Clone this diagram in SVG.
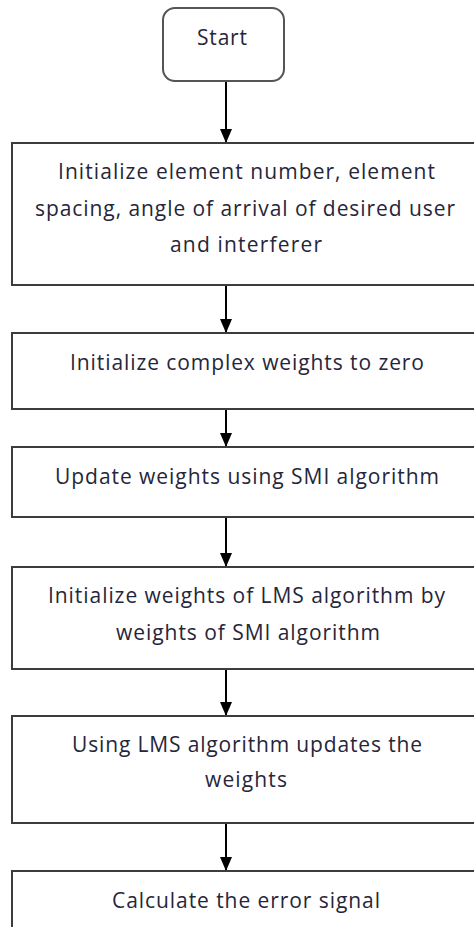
<svg xmlns="http://www.w3.org/2000/svg" width="474" height="927" viewBox="0 0 474 927">
<defs>
<marker id="ah" markerWidth="14" markerHeight="12" refX="14" refY="6" orient="auto" markerUnits="userSpaceOnUse" viewBox="0 0 14 12">
<path d="M0,0 L14,6 L0,12 Z" fill="#000"/>
</marker>
<style>
.box{fill:#fff;stroke:#3c3c3c;stroke-width:2}
.t{font-family:"Open Sans","Liberation Sans",sans-serif;font-size:21px;fill:#26263a;text-anchor:middle}
.c{stroke:#000;stroke-width:2;fill:none}
</style>
</defs>
<rect width="474" height="927" fill="#fff"/>
<g id="connectors">
<line class="c" x1="226" y1="81" x2="226" y2="143" marker-end="url(#ah)"/>
<line class="c" x1="226" y1="285" x2="226" y2="333" marker-end="url(#ah)"/>
<line class="c" x1="226" y1="409" x2="226" y2="447" marker-end="url(#ah)"/>
<line class="c" x1="226" y1="517" x2="226" y2="567" marker-end="url(#ah)"/>
<line class="c" x1="226" y1="669" x2="226" y2="716" marker-end="url(#ah)"/>
<line class="c" x1="226" y1="823" x2="226" y2="871" marker-end="url(#ah)"/>
</g>
<g id="start">
<rect class="box" x="163" y="8" width="121" height="73" rx="12" ry="12" style="stroke:#555"/>
<text class="t" x="222" y="45" textLength="50">Start</text>
</g>
<g id="init-elements">
<rect class="box" x="12" y="143" width="470" height="142"/>
<text class="t" x="246.5" y="179" textLength="377">Initialize element number, element</text>
<text class="t" x="245" y="216" textLength="420">spacing, angle of arrival of desired user</text>
<text class="t" x="246" y="252" textLength="152">and interferer</text>
</g>
<g id="init-weights">
<rect class="box" x="12" y="333" width="470" height="76"/>
<text class="t" x="247" y="370" textLength="354">Initialize complex weights to zero</text>
</g>
<g id="smi">
<rect class="box" x="12" y="447" width="470" height="70"/>
<text class="t" x="247" y="484" textLength="384">Update weights using SMI algorithm</text>
</g>
<g id="init-lms">
<rect class="box" x="12" y="567" width="470" height="102"/>
<text class="t" x="246.5" y="603" textLength="397">Initialize weights of LMS algorithm by</text>
<text class="t" x="248" y="640" textLength="264">weights of SMI algorithm</text>
</g>
<g id="lms">
<rect class="box" x="12" y="716" width="470" height="107"/>
<text class="t" x="247" y="752" textLength="350">Using LMS algorithm updates the</text>
<text class="t" x="246" y="787" textLength="82">weights</text>
</g>
<g id="error">
<rect class="box" x="12" y="871" width="470" height="80"/>
<text class="t" x="246" y="908" textLength="268">Calculate the error signal</text>
</g>
</svg>
